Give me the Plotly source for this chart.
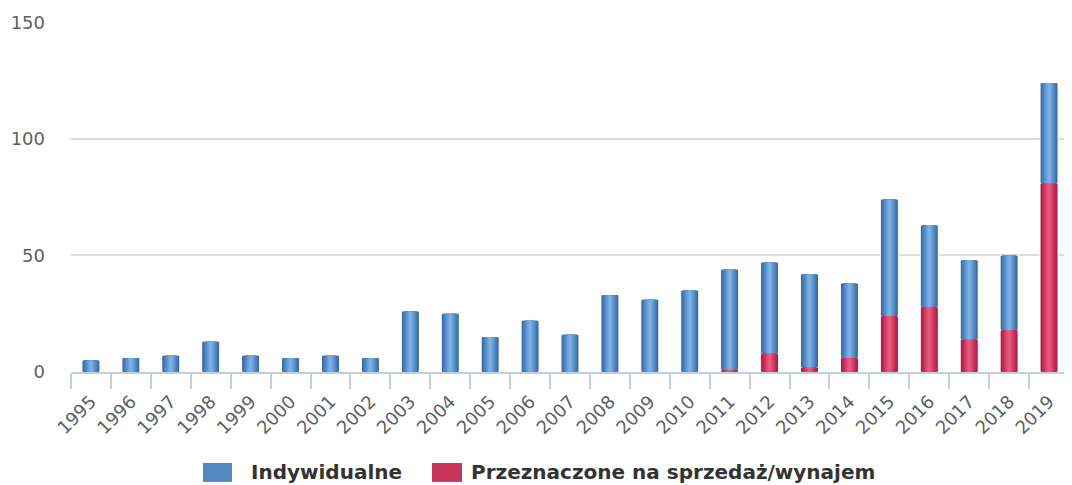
import plotly.graph_objects as go

years = [str(y) for y in range(1995, 2020)]
indywidualne = [5, 6, 7, 13, 7, 6, 7, 6, 26, 25, 15, 22, 16, 33, 31, 35, 43, 39, 40, 32, 50, 35, 34, 32, 43]
sprzedaz = [0, 0, 0, 0, 0, 0, 0, 0, 0, 0, 0, 0, 0, 0, 0, 0, 1, 8, 2, 6, 24, 28, 14, 18, 81]
y_ticks = [0, 50, 100, 150]
series_names = ["Indywidualne", "Przeznaczone na sprzedaż/wynajem"]

FONT = "DejaVu Sans"
BLUE_EDGE, BLUE_MID = (50, 102, 160), (122, 176, 230)
RED_EDGE, RED_MID = (172, 22, 64), (232, 88, 126)
BAR_W = 0.45
STEPS = 8


def mix(a, b, t):
    return "rgb({},{},{})".format(*[round(a[i] + (b[i] - a[i]) * t) for i in range(3)])


fig = go.Figure()

red_y = [v if v else None for v in sprzedaz]

# layered bars to imitate the horizontal gradient
for k in range(STEPS):
    t = k / (STEPS - 1)
    w = BAR_W * (1 - 0.85 * t)
    outer = k == 0
    fig.add_trace(go.Bar(
        x=years, y=red_y, base=[0] * len(years), width=w,
        marker=dict(color=mix(RED_EDGE, RED_MID, t),
                    line=dict(color="white", width=1 if outer else 0)),
        name=series_names[1], showlegend=False, hoverinfo="skip" if not outer else None,
    ))
    fig.add_trace(go.Bar(
        x=years, y=indywidualne, base=sprzedaz, width=w,
        marker=dict(color=mix(BLUE_EDGE, BLUE_MID, t),
                    line=dict(color="white", width=1 if outer else 0)),
        name=series_names[0], showlegend=False, hoverinfo="skip" if not outer else None,
    ))

# custom legend (large rectangular symbols like the original)
legend_items = [
    (series_names[0], mix(BLUE_EDGE, BLUE_MID, 0.45), 0.1323, 0.1613, 0.1784),
    (series_names[1], mix(RED_EDGE, RED_MID, 0.45), 0.3617, 0.3918, 0.3988),
]
for name, col, x0, x1, xt in legend_items:
    fig.add_shape(type="rect", xref="paper", yref="paper", x0=x0, x1=x1, y0=-0.314, y1=-0.26,
                  fillcolor=col, line=dict(width=0))
    fig.add_annotation(xref="paper", yref="paper", x=xt, y=-0.287, text=name, showarrow=False,
                       xanchor="left", yanchor="middle",
                       font=dict(family=FONT, size=20, color="#333333", weight="bold"))

# the page body adds an 8px offset, so the figure is 8px smaller and margins shifted
fig.update_layout(
    width=1064, height=477,
    barmode="overlay",
    paper_bgcolor="white", plot_bgcolor="white",
    margin=dict(l=63, r=3, t=14, b=113),
    font=dict(family=FONT, size=18, color="#666666"),
    showlegend=False,
    xaxis=dict(
        type="category", tickangle=-45,
        showline=True, linecolor="#c0d0e0", linewidth=2,
        ticks="outside", tickson="boundaries", ticklen=15, tickcolor="#c0d0e0", tickwidth=2,
        ticklabelstandoff=10,
        tickfont=dict(family=FONT, size=18, color="#606060"),
        showgrid=False,
    ),
    yaxis=dict(
        range=[0, 150.2], tickvals=y_ticks,
        showgrid=True, gridcolor="#dcdcdc", gridwidth=2,
        zeroline=False, showline=False,
        ticklabelstandoff=25,
        tickfont=dict(family=FONT, size=18, color="#606060"),
    ),
)

fig.write_html("out.html")
